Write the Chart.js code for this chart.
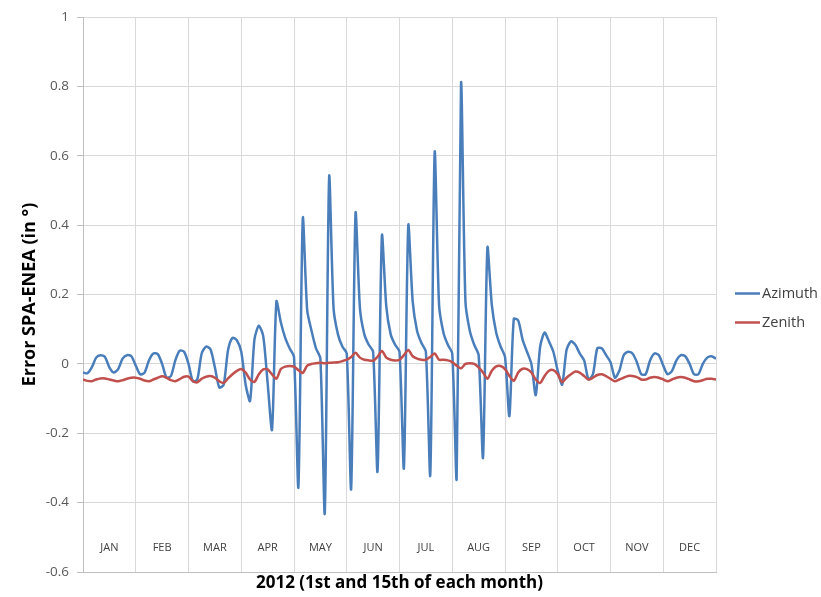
<!DOCTYPE html>
<html>
<head>
<meta charset="utf-8">
<script src="https://cdn.jsdelivr.net/npm/chart.js@4.4.1/dist/chart.umd.min.js"></script>
<style>
  html, body { margin: 0; padding: 0; background: #ffffff; }
  #wrap { width: 821px; height: 597px; }
</style>
</head>
<body>
<div id="wrap"><canvas id="c" width="821" height="597"></canvas></div>
<script>
// ---- Data ----
const monthLabels = ["JAN","FEB","MAR","APR","MAY","JUN","JUL","AUG","SEP","OCT","NOV","DEC"];
const samplesPerMonth = 12;   // samples between two month grid lines

const azimuth = [
  -0.025,-0.027,-0.010, 0.018, 0.025, 0.020,-0.010,-0.025,-0.015, 0.015, 0.025, 0.022,
  -0.005,-0.030,-0.025, 0.010, 0.030, 0.028, 0.000,-0.040,-0.035, 0.010, 0.038, 0.035,
   0.000,-0.050,-0.045, 0.030, 0.050, 0.042,-0.010,-0.068,-0.060, 0.040, 0.075, 0.068,
   0.035,-0.060,-0.107, 0.070, 0.110, 0.080,-0.055,-0.190, 0.180, 0.120, 0.075, 0.045,
   0.020,-0.355, 0.420, 0.155, 0.095, 0.045, 0.015,-0.430, 0.540, 0.160, 0.085, 0.050,
   0.030,-0.360, 0.435, 0.160, 0.085, 0.055, 0.035,-0.310, 0.370, 0.165, 0.085, 0.055,
   0.035,-0.300, 0.400, 0.180, 0.095, 0.060, 0.035,-0.320, 0.610, 0.170, 0.090, 0.055,
   0.030,-0.330, 0.810, 0.180, 0.095, 0.055, 0.025,-0.270, 0.335, 0.170, 0.090, 0.050,
   0.020,-0.150, 0.130, 0.125, 0.070, 0.035, 0.000,-0.090, 0.050, 0.090, 0.065, 0.035,
  -0.020,-0.060, 0.040, 0.065, 0.055, 0.030, 0.010,-0.045,-0.030, 0.045, 0.045, 0.025,
   0.005,-0.040,-0.020, 0.025, 0.035, 0.030, 0.005,-0.030,-0.030, 0.010, 0.030, 0.025,
  -0.005,-0.030,-0.020, 0.010, 0.025, 0.022, 0.000,-0.030,-0.030, 0.000, 0.018, 0.022,
   0.015
];

const zenith = [
  -0.045,-0.049,-0.050,-0.045,-0.042,-0.042,-0.045,-0.048,-0.050,-0.047,-0.043,-0.040,
  -0.040,-0.043,-0.048,-0.050,-0.045,-0.040,-0.036,-0.040,-0.047,-0.050,-0.044,-0.037,
  -0.037,-0.050,-0.053,-0.043,-0.037,-0.035,-0.040,-0.050,-0.055,-0.042,-0.030,-0.020,
  -0.015,-0.025,-0.045,-0.052,-0.030,-0.016,-0.016,-0.030,-0.043,-0.015,-0.008,-0.006,
  -0.008,-0.018,-0.026,-0.005, 0.000, 0.002, 0.003, 0.002, 0.003, 0.004, 0.005, 0.008,
   0.012, 0.020, 0.032, 0.018, 0.012, 0.010, 0.009, 0.020, 0.037, 0.018, 0.012, 0.010,
   0.012, 0.025, 0.040, 0.022, 0.015, 0.012, 0.012, 0.020, 0.030, 0.012, 0.012, 0.010,
   0.005,-0.005,-0.013, 0.000, 0.002, 0.000,-0.010,-0.025,-0.043,-0.020,-0.007,-0.006,
  -0.015,-0.035,-0.049,-0.025,-0.014,-0.015,-0.025,-0.045,-0.055,-0.035,-0.020,-0.018,
  -0.030,-0.053,-0.040,-0.030,-0.022,-0.025,-0.035,-0.045,-0.040,-0.032,-0.030,-0.035,
  -0.043,-0.050,-0.045,-0.040,-0.035,-0.035,-0.038,-0.045,-0.045,-0.040,-0.038,-0.040,
  -0.045,-0.050,-0.045,-0.040,-0.038,-0.040,-0.045,-0.050,-0.050,-0.047,-0.043,-0.043,
  -0.045
];

const seriesNames = ["Azimuth", "Zenith"];
const seriesColors = ["#4a7ebb", "#c0504d"];
const yTitle = "Error SPA-ENEA (in \u00b0)";
const xTitle = "2012 (1st and 15th of each month)";

// ---- Build points for the library ----
const toPoints = arr => arr.map((v, i) => ({ x: i / samplesPerMonth, y: v }));

const FONT = "'Open Sans', 'Liberation Sans', sans-serif";
const GRID = "#d9d9d9";
const AXIS = "#bfbfbf";
const TEXT = "#404040";

// month labels inside plot + custom legend
const annotate = {
  id: "annotate",
  afterDraw(chart) {
    const ctx = chart.ctx;
    const xs = chart.scales.x;
    const area = chart.chartArea;
    ctx.save();
    ctx.font = "11px " + FONT;
    ctx.fillStyle = TEXT;
    ctx.textAlign = "center";
    ctx.textBaseline = "middle";
    monthLabels.forEach((m, k) => {
      ctx.fillText(m, xs.getPixelForValue(k + 0.5), area.bottom - 24);
    });
    // legend
    const lx = area.right + 19;
    const cy = (area.top + area.bottom) / 2 - 1;
    chart.data.datasets.forEach((ds, k) => {
      const y = cy + k * 29;
      ctx.strokeStyle = ds.borderColor;
      ctx.lineWidth = 2.5;
      ctx.beginPath();
      ctx.moveTo(lx, y);
      ctx.lineTo(lx + 25, y);
      ctx.stroke();
      ctx.font = "14.5px " + FONT;
      ctx.fillStyle = TEXT;
      ctx.textAlign = "left";
      ctx.fillText(ds.label, lx + 27, y);
    });
    ctx.restore();
  }
};

new Chart(document.getElementById("c"), {
  type: "line",
  data: {
    datasets: [
      { label: seriesNames[0], data: toPoints(azimuth), borderColor: seriesColors[0],
        backgroundColor: seriesColors[0], borderWidth: 2.5, pointRadius: 0, tension: 0.25, order: 1 },
      { label: seriesNames[1], data: toPoints(zenith), borderColor: seriesColors[1],
        backgroundColor: seriesColors[1], borderWidth: 2.5, pointRadius: 0, tension: 0.25, order: 0 }
    ]
  },
  options: {
    responsive: false,
    animation: false,
    devicePixelRatio: 1,
    layout: { padding: { top: 17, right: 105, bottom: 0, left: 0 } },
    plugins: { legend: { display: false }, tooltip: { enabled: false } },
    scales: {
      x: {
        type: "linear", min: 0, max: 12,
        ticks: { display: false, stepSize: 1 },
        grid: { color: GRID, lineWidth: 1, drawTicks: false },
        border: { color: AXIS, width: 1 },
        title: { display: true, text: xTitle, color: "#000000",
                 font: { family: FONT, size: 17, weight: "bold" }, padding: { top: 0, bottom: 4 } },
        afterFit: s => { s.height = 25; }
      },
      y: {
        min: -0.6, max: 1,
        ticks: { stepSize: 0.2, color: "#595959", padding: 8,
                 font: { family: FONT, size: 13.5 },
                 callback: v => String(Math.round(v * 10) / 10) },
        grid: { color: GRID, lineWidth: 1, drawTicks: true, tickLength: 6, tickColor: AXIS },
        border: { color: AXIS, width: 1 },
        title: { display: true, text: yTitle, color: "#000000",
                 font: { family: FONT, size: 18, weight: "bold" }, padding: { top: 19, bottom: 0 } },
        afterFit: s => { s.width = 83; }
      }
    }
  },
  plugins: [annotate]
});
</script>
</body>
</html>
